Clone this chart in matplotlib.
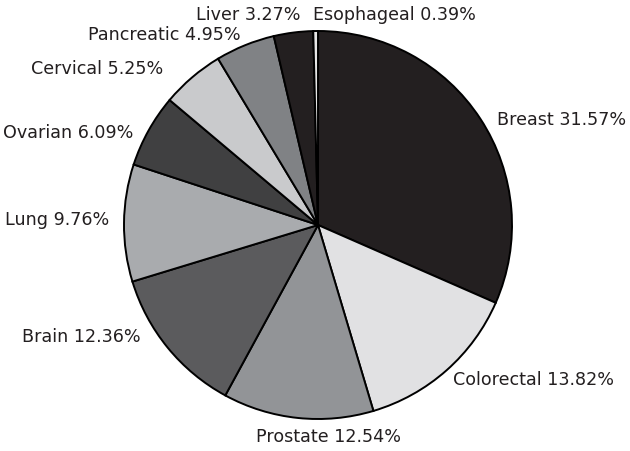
import matplotlib.pyplot as plt

cancers = ["Breast", "Colorectal", "Prostate", "Brain", "Lung",
           "Ovarian", "Cervical", "Pancreatic", "Liver", "Esophageal"]
shares = [31.57, 13.82, 12.54, 12.36, 9.76, 6.09, 5.25, 4.95, 3.27, 0.39]

colors = ["#231f20", "#e1e1e3", "#929497", "#5b5b5d", "#a9abae",
          "#404041", "#c9cacc", "#808285", "#231f20", "#e6e6e6"]
# label anchor points (pixels, left edge / vertical centre)
label_pos = [(497, 120), (453, 380), (256, 437), (22, 337), (5, 220),
             (3, 133), (31, 69), (88, 35), (196, 15), (313, 15)]

W, H = 630, 452
fig = plt.figure(figsize=(W / 100, H / 100), dpi=100)
ax = fig.add_axes([0, 0, 1, 1])

ax.pie(shares, colors=colors, startangle=90, counterclock=False,
       center=(318, H - 226), radius=194,
       wedgeprops=dict(edgecolor="black", linewidth=1.4), frame=True)
ax.set_xlim(0, W)
ax.set_ylim(0, H)
ax.set_aspect("equal")
ax.axis("off")

for name, val, (x, y) in zip(cancers, shares, label_pos):
    ax.text(x, H - y, f"{name} {val:.2f}%", fontsize=12.6, color="#231f20",
            ha="left", va="center", family="DejaVu Sans")

fig.savefig("out.png", dpi=100)
